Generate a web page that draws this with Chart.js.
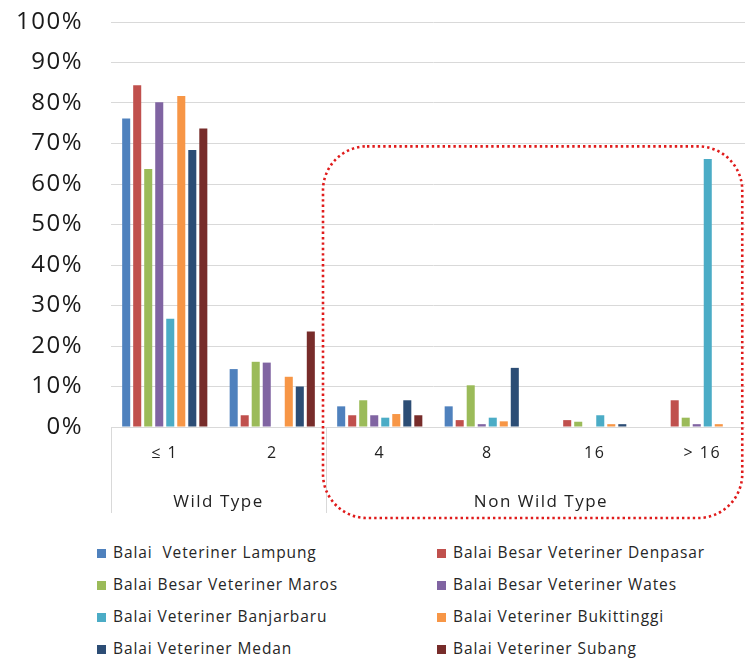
<!DOCTYPE html>
<html>
<head>
<meta charset="utf-8">
<script src="https://cdn.jsdelivr.net/npm/chart.js@4.4.1/dist/chart.umd.min.js"></script>
<style>
  html, body { margin: 0; padding: 0; background: #fff; }
  #wrap { position: relative; width: 745px; height: 659px; overflow: hidden; }
  #box { position: absolute; left: 0; top: 0; width: 760px; height: 530px; }
  #legend {
    position: absolute; left: 97px; top: 541px;
    display: grid; grid-template-columns: 340px 310px; row-gap: 10px;
    font-family: "Open Sans", sans-serif; font-size: 15.5px; letter-spacing: 0.9px; color: #262626;
  }
  #legend div { white-space: pre; height: 22px; line-height: 22px; }
  #legend span { display: inline-block; width: 9px; height: 9px; margin-right: 7px; }
</style>
</head>
<body>
<div id="wrap">
  <div id="box"><canvas id="chart"></canvas></div>
  <div id="legend"></div>
</div>
<script>
// Categories (MIC classes) and their groups
const categories = ['≤ 1', '2', '4', '8', '16', '> 16'];
const groups = ['Wild Type', 'Non Wild Type'];
const groupCenters = [0.5, 3.5];
const yTicks = [0, 10, 20, 30, 40, 50, 60, 70, 80, 90, 100];

// Percentage of isolates per lab
const lampung     = [76.2, 14.3, 5.1, 5.1, 0, 0];
const denpasar    = [84.4, 2.9, 2.9, 1.7, 1.7, 6.6];
const maros       = [63.7, 16.1, 6.6, 10.3, 1.3, 2.3];
const wates       = [80.2, 15.9, 2.9, 0.7, 0, 0.7];
const banjarbaru  = [26.7, 0, 2.3, 2.3, 2.9, 66.2];
const bukittinggi = [81.7, 12.4, 3.2, 1.4, 0.7, 0.7];
const medan       = [68.4, 10.0, 6.6, 14.6, 0.7, 0];
const subang      = [73.7, 23.6, 2.9, 0, 0, 0];

const labNames = [
    'Balai  Veteriner Lampung', 'Balai Besar Veteriner Denpasar',
    'Balai Besar Veteriner Maros', 'Balai Besar Veteriner Wates',
    'Balai Veteriner Banjarbaru', 'Balai Veteriner Bukittinggi',
    'Balai Veteriner Medan', 'Balai Veteriner Subang'
];
const labColors = ['#4F81BD', '#C0504D', '#9BBB59', '#8064A2', '#4BACC6', '#F79646', '#2C4D75', '#772C2A'];
const labData = [lampung, denpasar, maros, wates, banjarbaru, bukittinggi, medan, subang];

const datasets = labNames.map((name, i) => ({
    label: name,
    data: labData[i],
    backgroundColor: labColors[i],
    categoryPercentage: 0.82,
    barPercentage: 0.73
}));

// Separator lines under the axis and the red dotted box around "Non Wild Type"
const decorPlugin = {
    id: 'decor',
    beforeDraw(chart) {
        // the original text is a bit wider than Open Sans
        chart.ctx.letterSpacing = '1.5px';
    },
    afterDraw(chart) {
        const ctx = chart.ctx;
        const x2 = chart.scales.x2;
        const y = chart.scales.y;
        const bottom = x2.bottom - 2;
        ctx.save();
        ctx.strokeStyle = '#d9d9d9';
        ctx.lineWidth = 1;
        [-0.5, 1.5, 5.5].forEach(v => {
            const px = Math.round(x2.getPixelForValue(v)) + 0.5;
            ctx.beginPath();
            ctx.moveTo(px, y.bottom);
            ctx.lineTo(px, bottom);
            ctx.stroke();
        });

        const left = x2.getPixelForValue(1.5) - 3;
        const right = x2.getPixelForValue(5) + 40;
        const top = y.getPixelForValue(69.3);
        const bot = x2.bottom + 3;
        const r = 44;
        ctx.strokeStyle = '#e01b1b';
        ctx.lineWidth = 2.6;
        ctx.setLineDash([2.4, 3]);
        ctx.beginPath();
        ctx.roundRect(left, top, right - left, bot - top, r);
        ctx.stroke();
        ctx.restore();
    }
};

new Chart(document.getElementById('chart'), {
    type: 'bar',
    data: { labels: categories, datasets: datasets },
    options: {
        responsive: true,
        maintainAspectRatio: false,
        animation: false,
        layout: { padding: { top: 22, bottom: 15, left: 0, right: 4 } },
        plugins: {
            legend: { display: false },
            tooltip: { enabled: false }
        },
        scales: {
            x: {
                grid: { display: false },
                border: { display: true, color: '#d9d9d9' },
                ticks: {
                    color: '#222',
                    font: { family: 'Open Sans', size: 16 },
                    padding: 9
                },
                afterFit: s => { s.height = 45; }
            },
            x2: {
                type: 'linear',
                position: 'bottom',
                min: -0.5,
                max: 5.5,
                offset: false,
                grid: { display: false, offset: false },
                border: { display: false },
                afterBuildTicks: s => { s.ticks = groupCenters.map(v => ({ value: v })); },
                ticks: {
                    autoSkip: false,
                    color: '#222',
                    font: { family: 'Open Sans', size: 17 },
                    padding: 12,
                    callback: v => groups[groupCenters.indexOf(v)]
                },
                afterFit: s => { s.height = 43; }
            },
            y: {
                min: 0,
                max: 100,
                afterBuildTicks: s => { s.ticks = yTicks.map(v => ({ value: v })); },
                grid: { color: '#d9d9d9', drawTicks: false },
                border: { display: false },
                ticks: {
                    color: '#1a1a1a',
                    font: { family: 'Open Sans', size: 24 },
                    padding: 28,
                    callback: v => v + '%'
                },
                afterFit: s => {
                    s.width = 111;
                    s.paddingTop = 0;
                    s.paddingBottom = 0;
                }
            }
        }
    },
    plugins: [decorPlugin]
});

// Two-column legend built from the series
const legendEl = document.getElementById('legend');
labNames.forEach((name, i) => {
    const item = document.createElement('div');
    const sw = document.createElement('span');
    sw.style.background = labColors[i];
    item.appendChild(sw);
    item.appendChild(document.createTextNode(name));
    legendEl.appendChild(item);
});
</script>
</body>
</html>
